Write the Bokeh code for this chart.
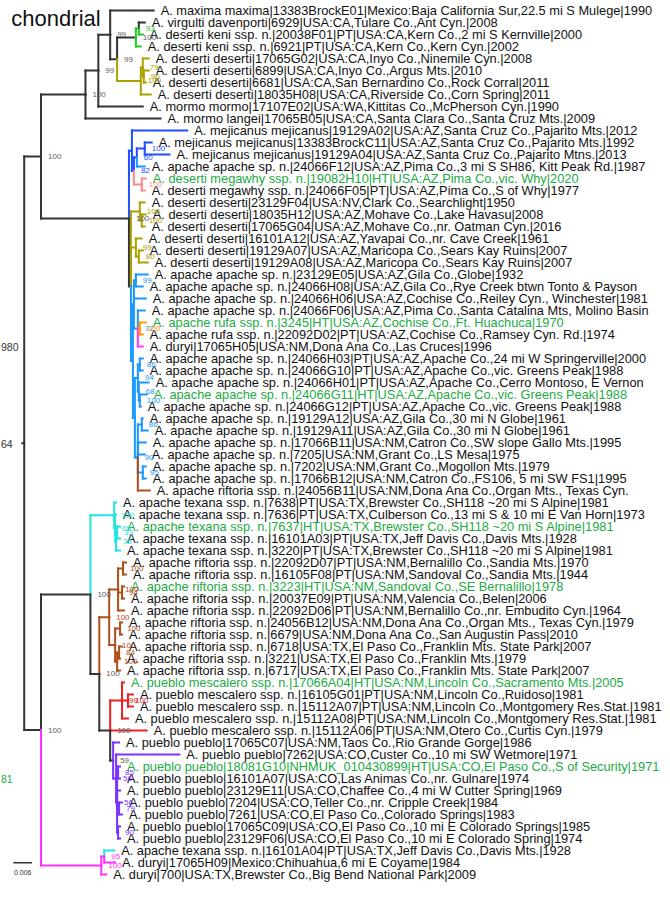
from bokeh.plotting import figure
from bokeh.models import ColumnDataSource, Range1d
from bokeh.core.properties import value
from bokeh.embed import file_html
from bokeh.resources import INLINE

# ---------------- data ----------------
leaf_labels = [
    "A. maxima maxima|13383BrockE01|Mexico:Baja California Sur,22.5 mi S Mulege|1990",
    "A. virgulti davenporti|6929|USA:CA,Tulare Co.,Ant Cyn.|2008",
    "A. deserti keni ssp. n.|20038F01|PT|USA:CA,Kern Co.,2 mi S Kernville|2000",
    "A. deserti keni ssp. n.|6921|PT|USA:CA,Kern Co.,Kern Cyn.|2002",
    "A. deserti deserti|17065G02|USA:CA,Inyo Co.,Ninemile Cyn.|2008",
    "A. deserti deserti|6899|USA:CA,Inyo Co.,Argus Mts.|2010",
    "A. deserti deserti|6681|USA:CA,San Bernardino Co.,Rock Corral|2011",
    "A. deserti deserti|18035H08|USA:CA,Riverside Co.,Corn Spring|2011",
    "A. mormo mormo|17107E02|USA:WA,Kittitas Co.,McPherson Cyn.|1990",
    "A. mormo langei|17065B05|USA:CA,Santa Clara Co.,Santa Cruz Mts.|2009",
    "A. mejicanus mejicanus|19129A02|USA:AZ,Santa Cruz Co.,Pajarito Mts.|2012",
    "A. mejicanus mejicanus|13383BrockC11|USA:AZ,Santa Cruz Co.,Pajarito Mts.|1992",
    "A. mejicanus mejicanus|19129A04|USA:AZ,Santa Cruz Co.,Pajarito Mtns.|2013",
    "A. apache apache sp. n.|24066F12|USA:AZ,Pima Co.,3 mi S SH86, Kitt Peak Rd.|1987",
    "A. deserti megawhy ssp. n.|19082H10|HT|USA:AZ,Pima Co.,vic. Why|2020",
    "A. deserti megawhy ssp. n.|24066F05|PT|USA:AZ,Pima Co.,S of Why|1977",
    "A. deserti deserti|23129F04|USA:NV,Clark Co.,Searchlight|1950",
    "A. deserti deserti|18035H12|USA:AZ,Mohave Co.,Lake Havasu|2008",
    "A. deserti deserti|17065G04|USA:AZ,Mohave Co.,nr. Oatman Cyn.|2016",
    "A. deserti deserti|16101A12|USA:AZ,Yavapai Co.,nr. Cave Creek|1961",
    "A. deserti deserti|19129A07|USA:AZ,Maricopa Co.,Sears Kay Ruins|2007",
    "A. deserti deserti|19129A08|USA:AZ,Maricopa Co.,Sears Kay Ruins|2007",
    "A. apache apache sp. n.|23129E05|USA:AZ,Gila Co.,Globe|1932",
    "A. apache apache sp. n.|24066H08|USA:AZ,Gila Co.,Rye Creek btwn Tonto & Payson",
    "A. apache apache sp. n.|24066H06|USA:AZ,Cochise Co.,Reiley Cyn., Winchester|1981",
    "A. apache apache sp. n.|24066F06|USA:AZ,Pima Co.,Santa Catalina Mts, Molino Basin",
    "A. apache rufa ssp. n.|3245|HT|USA:AZ,Cochise Co.,Ft. Huachuca|1970",
    "A. apache rufa ssp. n.|22092D02|PT|USA:AZ,Cochise Co.,Ramsey Cyn. Rd.|1974",
    "A. duryi|17065H05|USA:NM,Dona Ana Co.,Las Cruces|1996",
    "A. apache apache sp. n.|24066H03|PT|USA:AZ,Apache Co.,24 mi W Springerville|2000",
    "A. apache apache sp. n.|24066G10|PT|USA:AZ,Apache Co.,vic. Greens Peak|1988",
    "A. apache apache sp. n.|24066H01|PT|USA:AZ,Apache Co.,Cerro Montoso, E Vernon",
    "A. apache apache sp. n.|24066G11|HT|USA:AZ,Apache Co.,vic. Greens Peak|1988",
    "A. apache apache sp. n.|24066G12|PT|USA:AZ,Apache Co.,vic. Greens Peak|1988",
    "A. apache apache sp. n.|19129A12|USA:AZ,Gila Co.,30 mi N Globe|1961",
    "A. apache apache sp. n.|19129A11|USA:AZ,Gila Co.,30 mi N Globe|1961",
    "A. apache apache sp. n.|17066B11|USA:NM,Catron Co.,SW slope Gallo Mts.|1995",
    "A. apache apache sp. n.|7205|USA:NM,Grant Co.,LS Mesa|1975",
    "A. apache apache sp. n.|7202|USA:NM,Grant Co.,Mogollon Mts.|1979",
    "A. apache apache sp. n.|17066B12|USA:NM,Catron Co.,FS106, 5 mi SW FS1|1995",
    "A. apache riftoria ssp. n.|24056B11|USA:NM,Dona Ana Co.,Organ Mts., Texas Cyn.",
    "A. apache texana ssp. n.|7638|PT|USA:TX,Brewster Co.,SH118 ~20 mi S Alpine|1981",
    "A. apache texana ssp. n.|7636|PT|USA:TX,Culberson Co.,13 mi S & 10 mi E Van Horn|1973",
    "A. apache texana ssp. n.|7637|HT|USA:TX,Brewster Co.,SH118 ~20 mi S Alpine|1981",
    "A. apache texana ssp. n.|16101A03|PT|USA:TX,Jeff Davis Co.,Davis Mts.|1928",
    "A. apache texana ssp. n.|3220|PT|USA:TX,Brewster Co.,SH118 ~20 mi S Alpine|1981",
    "A. apache riftoria ssp. n.|22092D07|PT|USA:NM,Bernalillo Co.,Sandia Mts.|1970",
    "A. apache riftoria ssp. n.|16105F08|PT|USA:NM,Sandoval Co.,Sandia Mts.|1944",
    "A. apache riftoria ssp. n.|3223|HT|USA:NM,Sandoval Co.,SE Bernalillo|1978",
    "A. apache riftoria ssp. n.|20037E09|PT|USA:NM,Valencia Co.,Belen|2006",
    "A. apache riftoria ssp. n.|22092D06|PT|USA:NM,Bernalillo Co.,nr. Embudito Cyn.|1964",
    "A. apache riftoria ssp. n.|24056B12|USA:NM,Dona Ana Co.,Organ Mts., Texas Cyn.|1979",
    "A. apache riftoria ssp. n.|6679|USA:NM,Dona Ana Co.,San Augustin Pass|2010",
    "A. apache riftoria ssp. n.|6718|USA:TX,El Paso Co.,Franklin Mts. State Park|2007",
    "A. apache riftoria ssp. n.|3221|USA:TX,El Paso Co.,Franklin Mts.|1979",
    "A. apache riftoria ssp. n.|6717|USA:TX,El Paso Co.,Franklin Mts. State Park|2007",
    "A. pueblo mescalero ssp. n.|17066A04|HT|USA:NM,Lincoln Co.,Sacramento Mts.|2005",
    "A. pueblo mescalero ssp. n.|16105G01|PT|USA:NM,Lincoln Co.,Ruidoso|1981",
    "A. pueblo mescalero ssp. n.|15112A07|PT|USA:NM,Lincoln Co.,Montgomery Res.Stat.|1981",
    "A. pueblo mescalero ssp. n.|15112A08|PT|USA:NM,Lincoln Co.,Montgomery Res.Stat.|1981",
    "A. pueblo mescalero ssp. n.|15112A06|PT|USA:NM,Otero Co.,Curtis Cyn.|1979",
    "A. pueblo pueblo|17065C07|USA:NM,Taos Co.,Rio Grande Gorge|1986",
    "A. pueblo pueblo|7262|USA:CO,Custer Co.,10 mi SW Wetmore|1971",
    "A. pueblo pueblo|18081G10|NHMUK_010430899|HT|USA:CO,El Paso Co.,S of Security|1971",
    "A. pueblo pueblo|16101A07|USA:CO,Las Animas Co.,nr. Gulnare|1974",
    "A. pueblo pueblo|23129E11|USA:CO,Chaffee Co.,4 mi W Cutter Spring|1969",
    "A. pueblo pueblo|7204|USA:CO,Teller Co.,nr. Cripple Creek|1984",
    "A. pueblo pueblo|7261|USA:CO,El Paso Co.,Colorado Springs|1983",
    "A. pueblo pueblo|17065C09|USA:CO,El Paso Co.,10 mi E Colorado Springs|1985",
    "A. pueblo pueblo|23129F06|USA:CO,El Paso Co.,10 mi E Colorado Spring|1974",
    "A. apache texana ssp. n.|16101A04|PT|USA:TX,Jeff Davis Co.,Davis Mts.|1928",
    "A. duryi|17065H09|Mexico:Chihuahua,6 mi E Coyame|1984",
    "A. duryi|700|USA:TX,Brewster Co.,Big Bend National Park|2009",
]

# tip depth of every leaf (tree units; the 0.006 scale bar is 19 units long)
leaf_depth = [155, 146, 144, 142, 150, 150, 147, 152, 144, 162,
              189, 153, 171, 146, 147, 146, 146, 147, 146, 143,
              144, 149, 149, 144, 147, 146, 147, 144, 144, 144,
              144, 150, 148, 142, 144, 149, 147, 146, 147, 147,
              151, 117, 117, 121, 121, 121, 127, 127, 125, 125,
              125, 123, 123, 123, 121, 121, 125, 134, 134, 129,
              148, 120, 181, 121, 121, 121, 123, 123, 121, 121,
              115, 116, 107]

leaf_group = (["base", "base", "keni", "keni"] + ["deserti"] * 4 + ["base", "base"]
              + ["mejicanus"] * 3 + ["apache"] + ["megawhy"] * 2 + ["deserti"] * 6
              + ["apache"] * 4 + ["rufa"] * 2 + ["duryi"] + ["apache"] * 11 + ["riftoria"]
              + ["texana"] * 5 + ["riftoria"] * 10 + ["mescalero"] * 5 + ["pueblo"] * 9
              + ["texana", "duryi", "duryi"])

holotype_leaves = [15, 27, 33, 44, 49, 57, 64]

node_names = ["root", "A", "A1", "A1a", "Bp", "C", "G", "G1", "O", "O1", "O2",
              "D", "D1", "D1b", "D1c", "D1d", "W", "D2", "E1", "E1a", "E2", "E2a",
              "F", "F1", "Fa", "Fb", "Fr", "F2", "Fc", "Fd", "Fe", "Ff", "Fg", "Fh", "Fi",
              "B", "B1", "T", "T1", "T2", "T3", "R", "Rf", "Rf1", "Rf1a", "Rf1c",
              "Rf2", "Rf2a", "Rf2b", "Rf2c", "P", "M", "M1", "P2", "Q", "Q1", "Q2", "Q3", "Q4",
              "Z", "Z1"]

node_depth = [24, 41, 86, 99, 111, 118, 137, 140, 142, 144, 145,
              130, 133, 135, 138, 146, 143, 132, 141, 143, 137, 140,
              134, 135, 137, 139, 141, 136, 139, 141, 140, 141, 139, 143, 144,
              41, 91, 115, 116, 117, 118, 100, 110, 119, 124, 123,
              116, 121, 118, 120, 111, 123, 129, 114, 117, 118, 119, 120, 119,
              102, 105]

node_group = ["base", "base", "base", "base", "base", "base", "base", "keni", "deserti", "deserti", "deserti",
              "base", "mejicanus", "mejicanus", "mejicanus", "mejicanus", "megawhy", "base",
              "deserti", "deserti", "deserti", "deserti",
              "apache", "apache", "apache", "apache", "rufa", "apache", "apache", "apache", "apache",
              "apache", "apache", "apache", "apache",
              "base", "base", "texana", "texana", "texana", "texana", "base", "riftoria", "riftoria",
              "riftoria", "riftoria", "riftoria", "riftoria", "riftoria", "riftoria",
              "base", "mescalero", "mescalero", "base", "pueblo", "pueblo", "pueblo", "pueblo", "pueblo",
              "duryi", "duryi"]

node_support = ["", "100", "100", "99", "99", "99", "100", "93", "100", "79", "96",
                "100", "", "82", "60", "100", "100", "",
                "100", "100", "99", "80",
                "", "", "99", "72", "100", "", "94", "86", "68", "100", "90", "86", "95",
                "100", "100", "100", "65", "35", "33", "100", "100", "100", "100", "94",
                "100", "100", "100", "84", "100", "99", "100", "59", "56", "56", "85", "79", "90",
                "100", "95"]

node_children = [
    ["A", "B"], ["A1", "D"], ["A1a", 10], ["Bp", 9], [1, "C"], ["G", "O"], ["G1", 4], [2, 3],
    ["O1", 8], [5, "O2"], [6, 7],
    ["D1", "D2"], [11, "D1b"], ["D1c", "W"], ["D1d", 14], [12, 13], [15, 16],
    ["E1", "E2", "F"], [17, "E1a"], [18, 19], [20, "E2a"], [21, 22],
    ["F1", "F2"], ["Fa", 25, "Fb"], [23, 24], [26, "Fr", 29], [27, 28], ["Fc", "Fg"],
    ["Fd", "Fe"], [30, 31], [32, "Ff"], [33, 34], ["Fh", 37, 38, "Fi", 41], [35, 36], [39, 40],
    ["B1", "Z"], ["T", "R"], [42, "T1"], [43, "T2"], ["T3", 46], [44, 45], ["Rf", "P"],
    ["Rf1", "Rf2"], ["Rf1a", "Rf1c", 51], [47, 48], [49, 50], ["Rf2a", "Rf2b"], [52, 53],
    ["Rf2c", 56], [54, 55], ["M", 61, "P2"], [57, "M1", 60], [58, 59], [62, "Q"], [63, "Q1"],
    ["Q2", 66, "Q3", "Q4"], [64, 65], [67, 68], [69, 70],
    ["Z1", 73], [71, 72],
]

left_values = ["980", "64", "81"]
scale_value = "0.006"
title_text = "chondrial"

# ---------------- styles ----------------
palette = {
    "base": "#333333", "keni": "#22cc22", "deserti": "#aaa200", "mejicanus": "#1f4fff",
    "apache": "#1a98ff", "megawhy": "#ff8c8c", "rufa": "#ff9a00", "duryi": "#ff33ff",
    "riftoria": "#b24e17", "texana": "#22e4e4", "mescalero": "#e82222", "pueblo": "#7a33ff",
}
support_palette = dict(palette, base="#606060")
HT_COLOR = "#22aa44"
ROW0, ROWSTEP = 10.0, 12.11
SCALE_UNITS = 19.0  # tree units for 0.006
FONT = value("Liberation Sans")

# ---------------- layout computation ----------------
idx = {n: i for i, n in enumerate(node_names)}


def leaf_y(k):
    return ROW0 + (k - 1) * ROWSTEP


ypos = {}


def node_y(name):
    if name in ypos:
        return ypos[name]
    ch = node_children[idx[name]]
    ys = [leaf_y(c) if isinstance(c, int) else node_y(c) for c in ch]
    ypos[name] = (ys[0] + ys[-1]) / 2.0
    return ypos[name]


seg = dict(x0=[], y0=[], x1=[], y1=[], color=[])
for name in node_names:
    i = idx[name]
    px, py = node_depth[i], node_y(name)
    for c in node_children[i]:
        if isinstance(c, int):
            cx, cy, col = leaf_depth[c - 1], leaf_y(c), palette[leaf_group[c - 1]]
        else:
            j = idx[c]
            cx, cy, col = node_depth[j], node_y(c), palette[node_group[j]]
        seg["x0"] += [px, px]
        seg["y0"] += [py, cy]
        seg["x1"] += [px, cx]
        seg["y1"] += [cy, cy]
        seg["color"] += [col, col]

root_y = node_y("root")

# ---------------- figure ----------------
p = figure(width=662, height=890, x_range=Range1d(0, 670), y_range=Range1d(898, 0),
           toolbar_location=None, output_backend="svg", min_border=0)
p.axis.visible = False
p.grid.visible = False
p.outline_line_color = None
p.background_fill_color = "white"

p.segment(x0="x0", y0="y0", x1="x1", y1="y1", color="color", line_width=2,
          line_cap="square", source=ColumnDataSource(seg))
# root stub
p.segment(x0=[node_depth[0] - 3], y0=[root_y], x1=[node_depth[0]], y1=[root_y],
          color=palette["base"], line_width=2)

# leaf labels
lab = ColumnDataSource(dict(
    x=list(leaf_depth),
    y=[leaf_y(k + 1) for k in range(len(leaf_labels))],
    text=leaf_labels,
    color=[HT_COLOR if (k + 1) in holotype_leaves else "#111111" for k in range(len(leaf_labels))],
))
p.text(x="x", y="y", text="text", text_color="color", source=lab, x_offset=7,
       text_font=FONT, text_font_size=value("12.8px"),
       text_baseline="middle", text_align="left")

# support values
sup = dict(x=[], y=[], text=[], color=[])
for name in node_names:
    i = idx[name]
    if node_support[i]:
        sup["x"].append(node_depth[i])
        sup["y"].append(node_y(name))
        sup["text"].append(node_support[i])
        sup["color"].append(support_palette[node_group[i]])
p.text(x="x", y="y", text="text", text_color="color", source=ColumnDataSource(sup),
       x_offset=7, text_font=FONT, text_font_size=value("8px"),
       text_baseline="middle", text_align="left")

# title
p.text(x=[11], y=[18], text=[title_text], text_color="#111111",
       text_font=FONT, text_font_size=value("22px"),
       text_baseline="alphabetic", text_align="left")

# left-hand values
p.text(x=[0.5, 0.5, 0.5], y=[350, 447, 786], text=left_values,
       text_color=["#333333", "#333333", HT_COLOR],
       text_font=FONT, text_font_size=value("10.5px"),
       text_baseline="middle", text_align="left")

# scale bar
p.segment(x0=[13], y0=[870], x1=[13 + SCALE_UNITS], y1=[870], color="#333333", line_width=1.5)
p.text(x=[13 + SCALE_UNITS / 2], y=[880], text=[scale_value], text_color="#333333",
       text_font=FONT, text_font_size=value("7px"),
       text_baseline="middle", text_align="center")

open("out.html", "w").write(file_html(p, INLINE))
